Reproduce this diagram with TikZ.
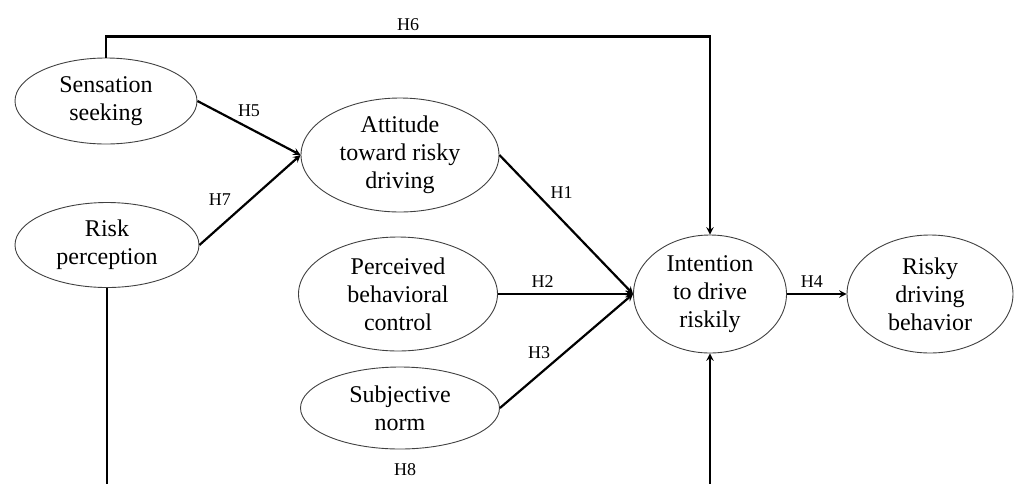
\documentclass[tikz,border=0pt]{standalone}
\usepackage{fontspec}
\setmainfont{Liberation Serif}
\usepackage{tikz}
\usetikzlibrary{shapes.geometric, arrows, calc}
\tikzset{style={font=\fontsize{24}{28}\selectfont}}

\begin{document}
\begin{tikzpicture}[x=1pt,y=-1pt,>=stealth,line width=2.2pt,
                construct/.style={ellipse,draw=black!75,line width=0.9pt,align=center,inner sep=0pt},
                hyp/.style={font=\fontsize{18}{20}\selectfont,inner sep=1pt}]
                \clip (0,0) rectangle (1015,483);
                \node[construct,minimum width=182,minimum height=86] (sens) at (106,101) {Sensation\\seeking};
                \node[construct,minimum width=184,minimum height=85] (risk) at (107,245) {Risk\\perception};
                \node[construct,minimum width=198,minimum height=114] (att) at (400,155) {Attitude\\toward risky\\driving};
                \node[construct,minimum width=199,minimum height=114] (pbc) at (398,294) {Perceived\\behavioral\\control};
                \node[construct,minimum width=199,minimum height=82] (sub) at (400,408) {Subjective\\norm};
                \node[construct,minimum width=153,minimum height=118] (int) at (710,294) {Intention\\to drive\\riskily};
                \node[construct,minimum width=166,minimum height=118] (beh) at (930,294) {Risky\\driving\\behavior};
                \draw[->] (sens.east) -- node[hyp,midway,above=9pt] {H5} (att.west);
                \draw[->] (risk.east) -- node[hyp,midway,left=17pt] {H7} (att.west);
                \draw[->] (att.east) -- node[hyp,pos=0.27,right=13pt] {H1} (int.west);
                \draw[->] (pbc.east) -- node[hyp,pos=0.33,above=4pt] {H2} (int.west);
                \draw[->] (sub.east) -- node[hyp,pos=0.49,left=13pt] {H3} (int.west);
                \draw[->] (int.east) -- node[hyp,pos=0.42,above=4pt] {H4} (beh.west);
                \draw[->] (sens.north) -- ++(0,-21) coordinate (h6l)
                -- node[hyp,above=4pt] {H6} (h6l -| int.north) -- (int.north);
                \draw[->] (risk.south) -- ++(0,232) coordinate (h8l)
                -- (h8l -| int.south) -- (int.south);
                \node[hyp] (h8) at (405,470) {H8};
            \end{tikzpicture}
\end{document}
